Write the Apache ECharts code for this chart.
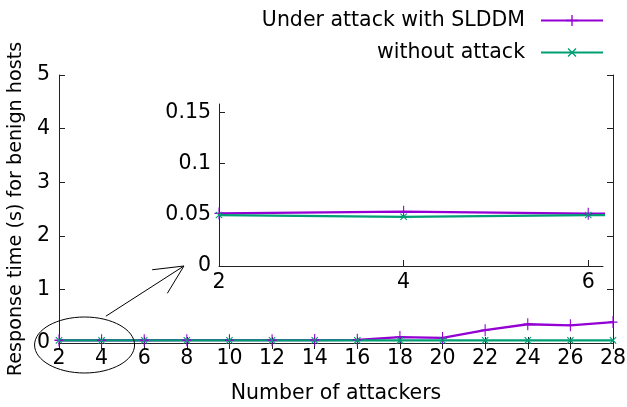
<!DOCTYPE html>
<html>
<head>
<meta charset="utf-8">
<script src="https://cdn.jsdelivr.net/npm/echarts@6/dist/echarts.min.js"></script>
<style>html,body{margin:0;padding:0;background:#fff}#c{width:627px;height:407px}</style>
</head>
<body>
<div id="c"></div>
<script>
// ---- data ----
const attackers = [2, 4, 6, 8, 10, 12, 14, 16, 18, 20, 22, 24, 26, 28];
const underAttack = [0.0513, 0.053, 0.051, 0.052, 0.053, 0.053, 0.055, 0.06, 0.11, 0.094, 0.24, 0.35, 0.33, 0.39];
const withoutAttack = [0.0497, 0.048, 0.0497, 0.049, 0.049, 0.049, 0.049, 0.049, 0.049, 0.049, 0.049, 0.049, 0.049, 0.049];
const seriesNames = ['Under attack with SLDDM', 'without attack'];
const insetXTicks = [2, 4, 6];
const insetYTicks = [0, 0.05, 0.1, 0.15];
const insetYLabels = ['0', '0.05', '0.1', '0.15'];

const FONT = 'DejaVu Sans';
const FS = 20.5;
const PURPLE = '#9400d3', GREEN = '#009e73';
const plusPath = 'path://M4.4,0h1.2v4.4h4.4v1.2h-4.4v4.4h-1.2v-4.4h-4.4v-1.2h4.4z';

const pairs = vals => attackers.map((x, i) => [x, vals[i]]);

const chart = echarts.init(document.getElementById('c'), null, {renderer: 'canvas'});

const lbl = {color: '#000', fontFamily: FONT, fontSize: FS};
const axLine = {show: true, lineStyle: {color: '#222', width: 1}};
const tick = {inside: true, length: 6, lineStyle: {color: '#222'}};

function mkSeries(name, vals, color, ai, rotate, size) {
  return {
    name: name, type: 'line', xAxisIndex: ai, yAxisIndex: ai,
    data: pairs(vals),
    symbol: plusPath, symbolSize: size, symbolRotate: rotate,
    showSymbol: true,
    lineStyle: {color: color, width: 2.3},
    itemStyle: {color: color},
    clip: true, animation: false, silent: true
  };
}

const option = {
  animation: false,
  backgroundColor: '#fff',
  legend: {
    data: seriesNames,
    orient: 'vertical', right: 18, top: 5,
    align: 'right', itemWidth: 62, itemHeight: 14, itemGap: 11,
    textStyle: {color: '#000', fontFamily: FONT, fontSize: FS, padding: [0, 11, 0, 0]},
    selectedMode: false
  },
  grid: [
    {left: 59, right: 14, top: 75, bottom: 64, containLabel: false, outerBoundsMode: 'none'},
    {left: 219, top: 104, width: 384, height: 162, containLabel: false, outerBoundsMode: 'none'}
  ],
  xAxis: [
    {gridIndex: 0, type: 'value', min: 2, max: 28, interval: 2, position: 'bottom',
     axisLine: axLine, axisTick: tick,
     axisLabel: Object.assign({margin: 5}, lbl), splitLine: {show: false},
     name: 'Number of attackers', nameLocation: 'middle', nameGap: 40,
     nameTextStyle: {color: '#000', fontFamily: FONT, fontSize: FS}},
    {gridIndex: 0, type: 'value', min: 2, max: 28, interval: 2, position: 'top',
     axisLine: axLine, axisTick: tick,
     axisLabel: {show: false}, splitLine: {show: false}},
    {gridIndex: 1, type: 'value', min: 2, max: 6.16, position: 'bottom',
     axisLine: axLine,
     axisTick: Object.assign({customValues: insetXTicks}, tick),
     axisLabel: Object.assign({margin: 6, customValues: insetXTicks}, lbl),
     splitLine: {show: false}}
  ],
  yAxis: [
    {gridIndex: 0, type: 'value', min: 0, max: 5, interval: 1, position: 'left',
     axisLine: axLine, axisTick: tick,
     axisLabel: Object.assign({margin: 9}, lbl), splitLine: {show: false},
     name: 'Response time (s) for benign hosts', nameLocation: 'middle', nameGap: 33,
     nameTextStyle: {color: '#000', fontFamily: FONT, fontSize: 19.2}},
    {gridIndex: 0, type: 'value', min: 0, max: 5, interval: 1, position: 'right',
     axisLine: axLine, axisTick: tick,
     axisLabel: {show: false}, splitLine: {show: false}},
    {gridIndex: 1, type: 'value', min: 0, max: 0.158, position: 'left',
     axisLine: axLine,
     axisTick: Object.assign({customValues: insetYTicks}, tick),
     axisLabel: Object.assign({margin: 8, customValues: insetYTicks,
       formatter: v => { const k = insetYTicks.indexOf(v); return k >= 0 ? insetYLabels[k] : String(v); }}, lbl),
     splitLine: {show: false}}
  ],
  series: [
    mkSeries(seriesNames[0], underAttack, PURPLE, 0, 0, [9, 12]),
    mkSeries(seriesNames[1], withoutAttack, GREEN, 0, 45, 9),
    mkSeries(seriesNames[0], underAttack, PURPLE, 2, 0, [9, 12]),
    mkSeries(seriesNames[1], withoutAttack, GREEN, 2, 45, 9)
  ]
};

chart.setOption(option);

// annotation: ellipse around x=2..4 and arrow pointing to the inset
const ec = chart.convertToPixel({xAxisIndex: 0, yAxisIndex: 0}, [3.2, 0]);
const p0 = chart.convertToPixel({xAxisIndex: 0, yAxisIndex: 0}, [4.2, 0.5]);
const p1 = chart.convertToPixel({xAxisIndex: 2, yAxisIndex: 2}, [1.62, 0]);
const ang = Math.atan2(p0[1] - p1[1], p0[0] - p1[0]);
const hl = 32, spread = 26 * Math.PI / 180;
const b1 = [p1[0] + hl * Math.cos(ang + spread), p1[1] + hl * Math.sin(ang + spread)];
const b2 = [p1[0] + hl * Math.cos(ang - spread), p1[1] + hl * Math.sin(ang - spread)];
chart.setOption({
  graphic: [
    {type: 'ellipse', shape: {cx: ec[0], cy: ec[1] + 2, rx: 50, ry: 28},
     style: {fill: 'none', stroke: '#000', lineWidth: 1}, z: 100, silent: true},
    {type: 'polyline', shape: {points: [p0, p1]}, style: {stroke: '#000', lineWidth: 1, fill: 'none'}, z: 100, silent: true},
    {type: 'polyline', shape: {points: [b1, p1, b2]}, style: {stroke: '#000', lineWidth: 1, fill: 'none'}, z: 100, silent: true}
  ]
});
</script>
</body>
</html>
